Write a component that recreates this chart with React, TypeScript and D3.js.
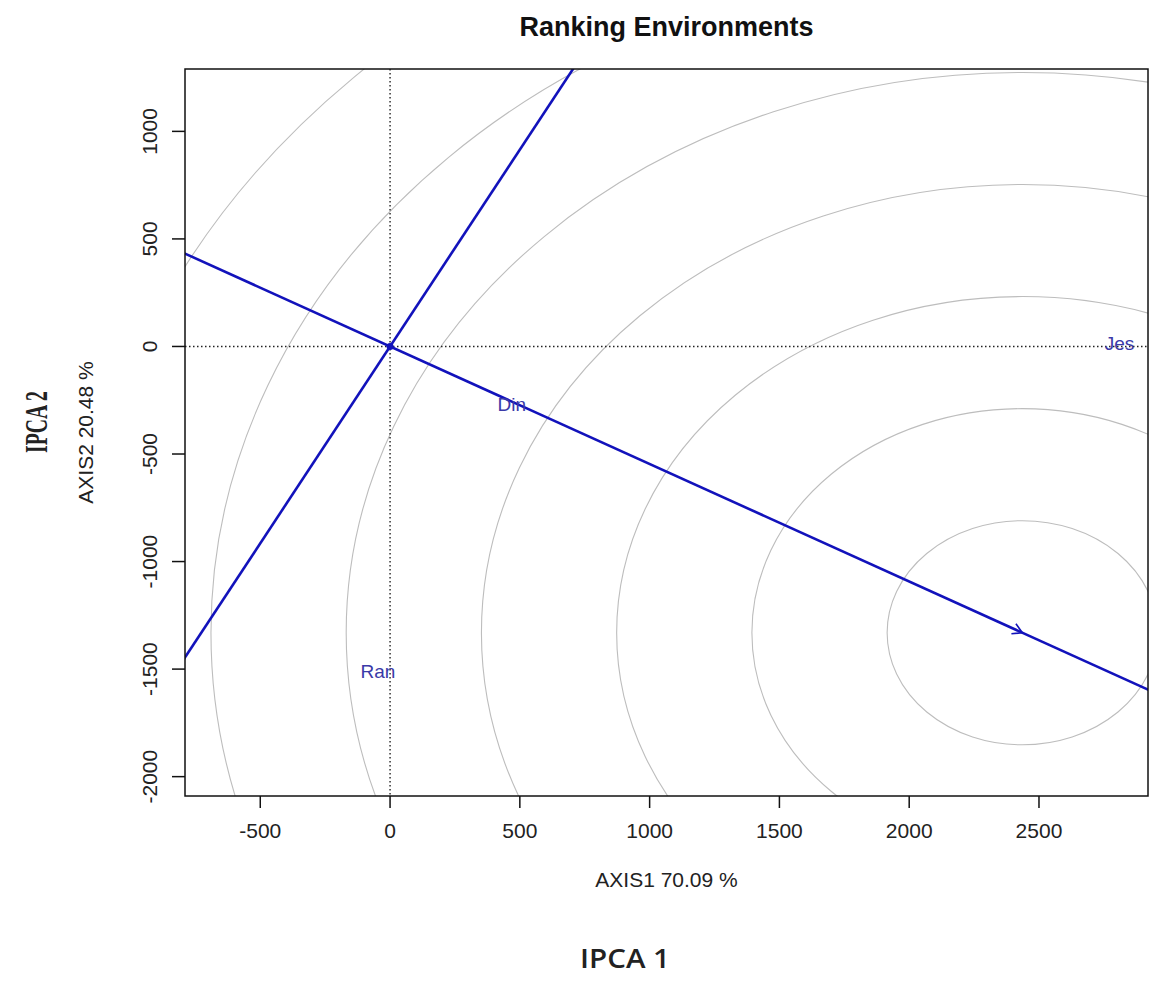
import React from "react";
import * as d3 from "d3";

// environment scores (AXIS1, AXIS2)
const envNames = ["Jes", "Din", "Ran"];
const envX = [2810, 469, -47];
const envY = [15, -271, -1512];

// ideal environment (arrow tip) and ring spacing
const idealPoint = [2436, -1331];
const ringStep = 521;
const ringCount = 8;

const xTicks = [-500, 0, 500, 1000, 1500, 2000, 2500];
const yTicks = [-2000, -1500, -1000, -500, 0, 500, 1000];
const xDomain = [-790, 2920];
const yDomain = [-2090, 1290];

const W = 1151;
const H = 989;
const plot = { left: 185, right: 1148, top: 69, bottom: 796 };

const BLUE = "#1212bb";
const LABEL = "#3a3aa8";
const FONT = "'Liberation Sans', Arial, sans-serif";

const App = () => {
  const x = d3.scaleLinear().domain(xDomain).range([plot.left, plot.right]);
  const y = d3.scaleLinear().domain(yDomain).range([plot.bottom, plot.top]);

  const [ix, iy] = idealPoint;
  const big = 100;
  // AEC line through origin and ideal point, and its perpendicular
  const aec = [[-ix * big, -iy * big], [ix * big, iy * big]];
  const perp = [[iy * big, -ix * big], [-iy * big, ix * big]];
  const line = d3.line<number[]>().x((d) => x(d[0])).y((d) => y(d[1]));

  const rings = d3.range(1, ringCount + 1).map((k) => k * ringStep);
  const kx = x(1) - x(0);
  const ky = y(0) - y(1);

  // arrow head at the ideal point (screen space)
  const tipX = x(ix);
  const tipY = y(iy);
  const ang = Math.atan2(tipY - y(0), tipX - x(0));
  const headLen = 11;
  const barb = (a: number) =>
    `M${tipX - headLen * Math.cos(ang + a)},${tipY - headLen * Math.sin(ang + a)}L${tipX},${tipY}`;

  const midX = (plot.left + plot.right) / 2;
  const midY = (plot.top + plot.bottom) / 2;

  return (
    <svg width={W} height={H} style={{ display: "block", position: "absolute", left: 0, top: 0 }}>
      <rect width={W} height={H} fill="#fff" />
      <defs>
        <clipPath id="plotClip">
          <rect x={plot.left} y={plot.top} width={plot.right - plot.left} height={plot.bottom - plot.top} />
        </clipPath>
      </defs>

      <text x={midX} y={36} textAnchor="middle" fontFamily={FONT} fontWeight="bold" fontSize={27} fill="#111">
        Ranking Environments
      </text>

      <g clipPath="url(#plotClip)">
        {rings.map((r) => (
          <ellipse key={r} cx={tipX} cy={tipY} rx={r * kx} ry={r * ky} fill="none" stroke="#bdbdbd" strokeWidth={1.1} />
        ))}
        <line x1={plot.left} x2={plot.right} y1={y(0)} y2={y(0)} stroke="#222" strokeWidth={1.4} strokeDasharray="1.5,2.5" />
        <line x1={x(0)} x2={x(0)} y1={plot.top} y2={plot.bottom} stroke="#222" strokeWidth={1.4} strokeDasharray="1.5,2.5" />
        <path d={line(aec) || ""} stroke={BLUE} strokeWidth={2.6} fill="none" />
        <path d={line(perp) || ""} stroke={BLUE} strokeWidth={2.6} fill="none" />
        <path d={barb(0.52) + barb(-0.52)} stroke={BLUE} strokeWidth={1.6} fill="none" />
        <circle cx={x(0)} cy={y(0)} r={3.5} fill={BLUE} />
        {envNames.map((n, i) => (
          <text key={n} x={x(envX[i])} y={y(envY[i])} dy="0.35em" textAnchor="middle" fontFamily={FONT} fontSize={19} fill={LABEL}>
            {n}
          </text>
        ))}
      </g>

      <rect x={plot.left} y={plot.top} width={plot.right - plot.left} height={plot.bottom - plot.top} fill="none" stroke="#111" strokeWidth={1.5} />

      {xTicks.map((t) => (
        <g key={t} transform={`translate(${x(t)},${plot.bottom})`}>
          <line y2={12} stroke="#111" strokeWidth={1.5} />
          <text y={42} textAnchor="middle" fontFamily={FONT} fontSize={21} fill="#222">{t}</text>
        </g>
      ))}
      {yTicks.map((t) => (
        <g key={t} transform={`translate(${plot.left},${y(t)})`}>
          <line x2={-13} stroke="#111" strokeWidth={1.5} />
          <text transform="translate(-28,0) rotate(-90)" textAnchor="middle" fontFamily={FONT} fontSize={21} fill="#222">{t}</text>
        </g>
      ))}

      <text x={midX} y={887} textAnchor="middle" fontFamily={FONT} fontSize={21} fill="#222">AXIS1 70.09 %</text>
      <text transform={`translate(93,${midY}) rotate(-90)`} textAnchor="middle" fontFamily={FONT} fontSize={21} fill="#222">
        AXIS2 20.48 %
      </text>

      <text transform="translate(47,422) rotate(-90)" textAnchor="middle" textLength={62} lengthAdjust="spacingAndGlyphs" fontFamily="'Liberation Serif', 'DejaVu Serif', serif" fontWeight="bold" fontSize={32} fill="#222">
        IPCA 2
      </text>
      <text x={625} y={968} textAnchor="middle" textLength={90} lengthAdjust="spacingAndGlyphs" fontFamily="'Open Sans', sans-serif" fontWeight={600} fontSize={27} fill="#222">
        IPCA 1
      </text>
    </svg>
  );
};

export default App;
